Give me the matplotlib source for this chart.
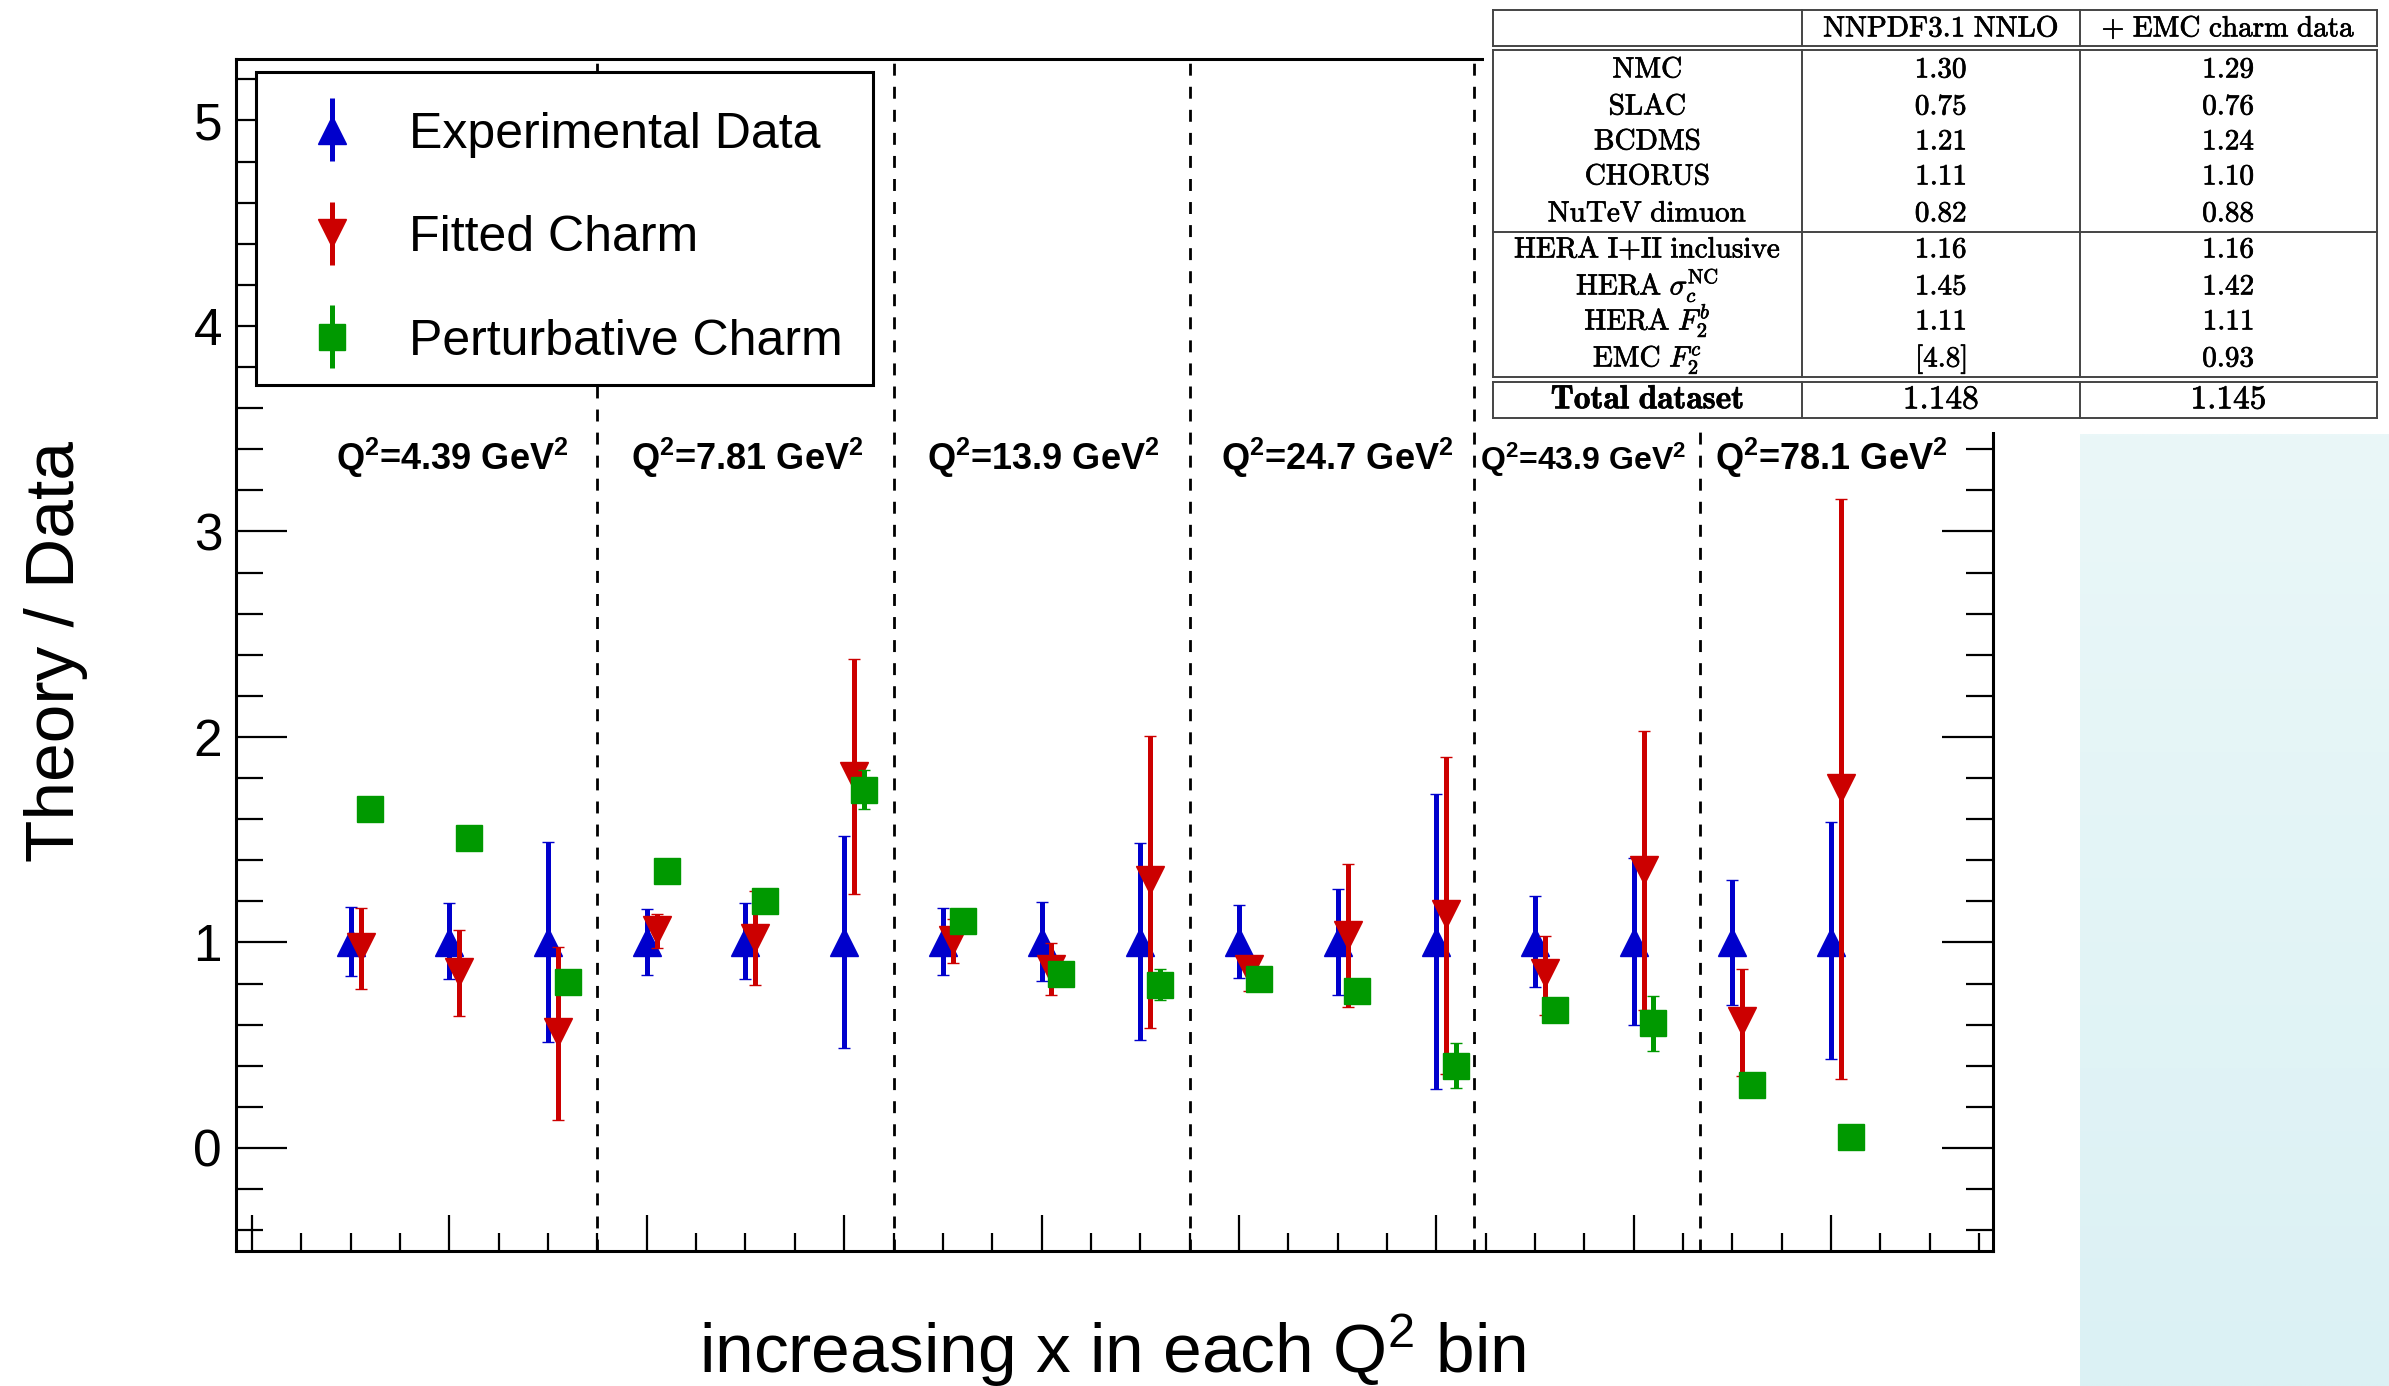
import numpy as np
import matplotlib
matplotlib.use("Agg")
import matplotlib.pyplot as plt
import matplotlib.patheffects as pe
from matplotlib.patches import Rectangle
from matplotlib.ticker import FixedLocator, MultipleLocator

plt.rcParams["font.family"] = ["Liberation Sans", "DejaVu Sans"]
plt.rcParams["mathtext.fontset"] = "custom"
plt.rcParams["mathtext.rm"] = "Liberation Sans"
plt.rcParams["mathtext.it"] = "Liberation Sans:italic"
plt.rcParams["mathtext.bf"] = "Liberation Sans:bold"
plt.rcParams["lines.scale_dashes"] = False

# ---------------- data ----------------
q2_labels = [r"Q$^{\mathbf{2}}$=4.39 GeV$^{\mathbf{2}}$",
             r"Q$^{\mathbf{2}}$=7.81 GeV$^{\mathbf{2}}$",
             r"Q$^{\mathbf{2}}$=13.9 GeV$^{\mathbf{2}}$",
             r"Q$^{\mathbf{2}}$=24.7 GeV$^{\mathbf{2}}$",
             r"Q$^{\mathbf{2}}$=43.9 GeV$^{\mathbf{2}}$",
             r"Q$^{\mathbf{2}}$=78.1 GeV$^{\mathbf{2}}$"]
q2_label_x = [1.03, 4.02, 7.02, 10.0, 12.49, 15.0]
q2_label_size = [26, 26, 26, 26, 23, 26]
bin_separators = [2.5, 5.5, 8.5, 11.38, 13.67]

exp_val = [1.0] * 16
exp_lo = [0.837, 0.820, 0.517, 0.841, 0.821, 0.488, 0.841, 0.815,
          0.524, 0.827, 0.746, 0.286, 0.785, 0.598, 0.698, 0.432]
exp_hi = [1.174, 1.190, 1.490, 1.164, 1.191, 1.518, 1.168, 1.195,
          1.486, 1.184, 1.261, 1.724, 1.227, 1.413, 1.306, 1.584]

fit_val = [0.977, 0.855, 0.563, 1.063, 1.023, 1.810, 1.013, 0.870,
           1.302, 0.870, 1.035, 1.140, 0.852, 1.355, 0.620, 1.750]
fit_lo = [0.772, 0.642, 0.136, 0.973, 0.795, 1.235, 0.902, 0.746,
          0.583, 0.766, 0.688, 0.360, 0.647, 0.670, 0.349, 0.338]
fit_hi = [1.170, 1.061, 0.980, 1.138, 1.251, 2.380, 1.114, 0.997,
          2.006, 0.918, 1.380, 1.902, 1.033, 2.028, 0.872, 3.156]

pert_val = [1.648, 1.508, 0.810, 1.350, 1.201, 1.744, 1.104, 0.845,
            0.795, 0.820, 0.765, 0.400, 0.672, 0.606, 0.308, 0.055]
pert_lo = [1.648, 1.508, 0.810, 1.350, 1.201, 1.651, 1.104, 0.845,
           0.720, 0.820, 0.765, 0.290, 0.672, 0.474, 0.308, 0.055]
pert_hi = [1.648, 1.508, 0.810, 1.350, 1.201, 1.837, 1.104, 0.845,
           0.870, 0.820, 0.765, 0.510, 0.672, 0.740, 0.308, 0.055]

series_names = ["Experimental Data", "Fitted Charm", "Perturbative Charm"]
series_colors = ["#0000cc", "#cc0000", "#009900"]
series_markers = ["^", "v", "s"]
series_msize = [19.5, 19.5, 19]
series_offsets = [0.0, 0.10, 0.20]

# chi2 summary table
table_header = ["", r"$\mathrm{NNPDF3.1\ NNLO}$", r"$+\ \mathrm{EMC\ charm\ data}$"]
table_names_a = [r"$\mathrm{NMC}$", r"$\mathrm{SLAC}$", r"$\mathrm{BCDMS}$",
                 r"$\mathrm{CHORUS}$", r"$\mathrm{NuTeV\ dimuon}$"]
table_base_a = ["1.30", "0.75", "1.21", "1.11", "0.82"]
table_emc_a = ["1.29", "0.76", "1.24", "1.10", "0.88"]
table_names_b = [r"$\mathrm{HERA\ I{+}II\ inclusive}$",
                 r"$\mathrm{HERA}\ \sigma_c^{\mathrm{NC}}$",
                 r"$\mathrm{HERA}\ F_2^b$",
                 r"$\mathrm{EMC}\ F_2^c$"]
table_base_b = ["1.16", "1.45", "1.11", "[4.8]"]
table_emc_b = ["1.16", "1.42", "1.11", "0.93"]
table_total = [r"$\mathbf{Total\ dataset}$", r"$\mathbf{1.148}$", r"$\mathbf{1.145}$"]

# ---------------- figure ----------------
W, H = 2389, 1386
fig = plt.figure(figsize=(W / 100, H / 100), dpi=100)
fig.patch.set_facecolor("white")

ax = fig.add_axes([236 / W, 1 - 1250.75 / H, (1993 - 236) / W, (1250.75 - 58.8) / H])
ax.set_xlim(-1.162, 16.64)
ax.set_ylim(-0.5, 5.3)

bar_lw = 3.6
idx = np.arange(len(exp_val))
all_series = [(exp_val, exp_lo, exp_hi), (fit_val, fit_lo, fit_hi),
              (pert_val, pert_lo, pert_hi)]
for k, (val, lo, hi) in enumerate(all_series):
    val = np.asarray(val)
    yerr = [val - np.asarray(lo), np.asarray(hi) - val]
    ax.errorbar(idx + series_offsets[k], val, yerr=yerr,
                fmt=series_markers[k], color=series_colors[k],
                ms=series_msize[k], mec=series_colors[k], mew=1,
                elinewidth=bar_lw, capsize=4.5, capthick=3.2,
                zorder=3 + k)

for xs in bin_separators:
    ax.axvline(xs, color="black", lw=2.0, linestyle=(0, (8.6, 8.0)), zorder=1)

for lab, xl, fs in zip(q2_labels, q2_label_x, q2_label_size):
    ax.text(xl, 3.30, lab, ha="center", va="baseline",
            fontsize=fs, fontweight="bold", zorder=6)

# axes frame and ticks
for sp in ax.spines.values():
    sp.set_linewidth(2.2)
ax.yaxis.set_major_locator(FixedLocator([0, 1, 2, 3, 4, 5]))
ax.yaxis.set_minor_locator(MultipleLocator(0.2))
ax.xaxis.set_major_locator(FixedLocator(np.arange(-1, 17, 2)))
ax.xaxis.set_minor_locator(MultipleLocator(0.5))
ax.tick_params(axis="y", which="major", direction="in", length=37, width=1.6,
               left=True, right=True, labelsize=37, pad=10)
ax.tick_params(axis="y", which="minor", direction="in", length=19.5, width=1.6,
               left=True, right=True)
ax.tick_params(axis="x", which="major", direction="in", length=26, width=1.6,
               top=False, labelbottom=False)
ax.tick_params(axis="x", which="minor", direction="in", length=13, width=1.6,
               top=False)

fig.text(0.0234, 0.530, "Theory / Data", rotation=90, fontsize=50,
         ha="center", va="center")
fig.text(0.4655, 1 - 1373 / H, r"increasing x in each Q$^{\mathrm{2}}$ bin",
         fontsize=50, ha="center", va="baseline")

# ---------------- overlay in pixel units: legend box, table, side panel ----------------
ov = fig.add_axes([0, 0, 1, 1], zorder=10)
ov.axis("off")

# legend box
ov.add_patch(Rectangle((256, 72), 617, 313, facecolor="white",
                       edgecolor="black", lw=2.2, zorder=1))
leg_rows_y = [129.5, 233.0, 336.7]
for yv, name, c, m, ms in zip(leg_rows_y, series_names, series_colors,
                              series_markers, series_msize):
    ov.plot([332, 332], [yv - 31.5, yv + 31.5], color=c, lw=bar_lw,
            solid_capstyle="butt", zorder=2)
    ov.plot([332], [yv], marker=m, ms=ms, color=c, mec=c, mew=1,
            linestyle="none", zorder=3)
    ov.text(409, yv + 18, name, fontsize=36, ha="left", va="baseline", zorder=3)

# table background
ov.add_patch(Rectangle((1484, 0), W - 1484, 432, facecolor="white",
                       edgecolor="none", zorder=1))

# side panel with a soft vertical gradient
grad = np.linspace(0, 1, 256)[:, None, None]
top_c = np.array([234, 247, 248]) / 255
bot_c = np.array([219, 241, 244]) / 255
panel = top_c * (1 - grad) + bot_c * grad
ov.imshow(panel, extent=[2080, W, H, 434], aspect="auto", zorder=1,
          interpolation="bilinear")
ov.set_xlim(0, W)
ov.set_ylim(H, 0)

col_x = [1493, 1802, 2080, 2377]
col_c = [(col_x[i] + col_x[i + 1]) / 2 for i in range(3)]
boxes = [(10, 45.5), (50, 377), (382, 418)]
lc = "#444444"
for top, bot in boxes:
    ov.plot([col_x[0], col_x[-1]], [top, top], color=lc, lw=1.4, zorder=2)
    ov.plot([col_x[0], col_x[-1]], [bot, bot], color=lc, lw=1.4, zorder=2)
    for xv in col_x:
        ov.plot([xv, xv], [top, bot], color=lc, lw=1.4, zorder=2)
ov.plot([col_x[0], col_x[-1]], [232, 232], color=lc, lw=1.4, zorder=2)

tfs = 21
base_off = 9.5
heavy = [pe.withStroke(linewidth=0.5, foreground="black")]


def cell(x, y, s, size=tfs):
    ov.text(x, y + base_off, s, ha="center", va="baseline", fontsize=size,
            zorder=3, path_effects=heavy, math_fontfamily="cm")


for j in range(3):
    cell(col_c[j], 27, table_header[j])
rows_a_y = [68, 105, 140, 175, 212]
for yv, a, b, c in zip(rows_a_y, table_names_a, table_base_a, table_emc_a):
    for j, s in enumerate([a, "$" + b + "$", "$" + c + "$"]):
        cell(col_c[j], yv, s)
rows_b_y = [248, 285, 320, 357]
for yv, a, b, c in zip(rows_b_y, table_names_b, table_base_b, table_emc_b):
    for j, s in enumerate([a, "$" + b + "$", "$" + c + "$"]):
        cell(col_c[j], yv, s)
for j in range(3):
    cell(col_c[j], 399, table_total[j], size=24)

fig.savefig("out.png", dpi=100)
